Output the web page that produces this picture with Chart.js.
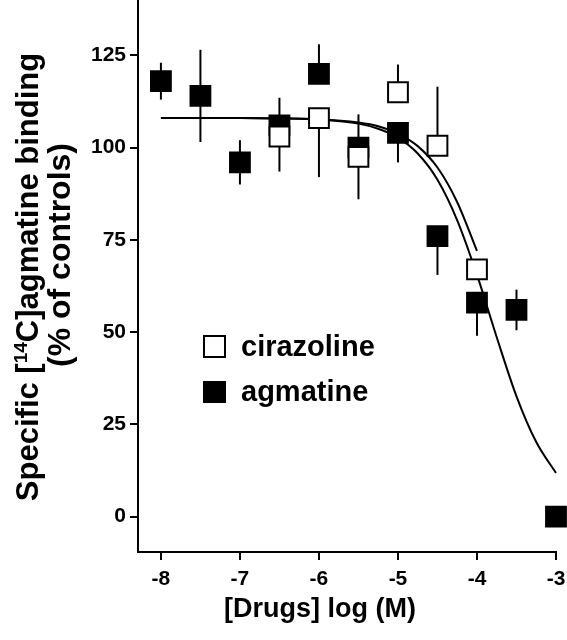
<!DOCTYPE html>
<html>
<head>
<meta charset="utf-8">
<script src="https://cdn.jsdelivr.net/npm/chart.js@4/dist/chart.umd.min.js"></script>
<style>
html,body{margin:0;padding:0;background:#fff;}
canvas{display:block;}
</style>
</head>
<body>
<canvas id="c" width="567" height="640"></canvas>
<script>
// ---- data ----
const xTicks = [-8, -7, -6, -5, -4, -3];
const yTicks = [0, 25, 50, 75, 100, 125];

const agmX = [-8, -7.5, -7, -6.5, -6, -5.5, -5, -4.5, -4, -3.5, -3];
const agmY = [118, 114, 96, 106, 120, 100, 104, 76, 58, 56, 0];
const agmErrUp = [5, 12.5, 6, 7.5, 8, 9, 0, 0, 0, 5.5, 0];
const agmErrDown = [5, 12.5, 6, 0, 0, 0, 8, 10.5, 9, 5.5, 0];

const cirX = [-6.5, -6, -5.5, -5, -4.5, -4];
const cirY = [103, 108, 97.5, 115, 100.5, 67];
const cirErrUp = [0, 0, 0, 7.5, 16, 0];
const cirErrDown = [9.5, 16, 11.5, 0, 0, 0];

const agmFitX = [-8, -7, -6.5, -6, -5.5, -5.25, -5, -4.75, -4.5, -4.25, -4, -3.75, -3.5, -3.25, -3];
const agmFitY = [108, 108, 107.9, 107.6, 106.5, 105.1, 102.7, 98.4, 91.3, 80.3, 65.5, 48.6, 32.6, 20.2, 11.8];
const cirFitX = [-8, -7, -6.5, -6, -5.5, -5.25, -5, -4.75, -4.5, -4.25, -4];
const cirFitY = [108, 108, 107.9, 107.7, 106.8, 105.8, 103.8, 100.4, 94.6, 85.2, 72];

const seriesNames = ['cirazoline', 'agmatine'];
const xTitle = '[Drugs] log (M)';
const yTitleA = 'Specific [';
const yTitleSup = '14';
const yTitleB = 'C]agmatine binding';
const yTitle2 = '(% of controls)';

// ---- build ----
const pts = (xs, ys) => xs.map((x, i) => ({x: x, y: ys[i]}));
const FONT = "'Liberation Sans', Arial, Helvetica, sans-serif";

const errorBars = {
  id: 'errorBars',
  beforeDatasetsDraw(chart) {
    const {ctx, scales: {x, y}} = chart;
    ctx.save();
    ctx.strokeStyle = '#000';
    ctx.lineWidth = 2;
    chart.data.datasets.forEach(ds => {
      if (!ds.errUp) return;
      ds.data.forEach((p, i) => {
        const up = ds.errUp[i], dn = ds.errDown[i];
        if (!up && !dn) return;
        const px = x.getPixelForValue(p.x);
        ctx.beginPath();
        ctx.moveTo(px, y.getPixelForValue(p.y + up));
        ctx.lineTo(px, y.getPixelForValue(p.y - dn));
        ctx.stroke();
      });
    });
    ctx.restore();
  }
};

const texts = {
  id: 'texts',
  afterDraw(chart) {
    const ctx = chart.ctx;
    ctx.save();
    ctx.fillStyle = '#000';
    // x title
    ctx.font = 'bold 27px ' + FONT;
    ctx.textAlign = 'center';
    ctx.textBaseline = 'middle';
    ctx.fillText(xTitle, 320, 610);

    // y title line 1 with superscript
    const big = 'bold 31px ' + FONT, small = 'bold 19px ' + FONT;
    ctx.font = big; const wA = ctx.measureText(yTitleA).width; const wB = ctx.measureText(yTitleB).width;
    ctx.font = small; const wS = ctx.measureText(yTitleSup).width;
    const total = wA + wS + wB;
    ctx.save();
    ctx.translate(38, 277);
    ctx.rotate(-Math.PI / 2);
    ctx.textAlign = 'left';
    ctx.textBaseline = 'alphabetic';
    let sx = -total / 2;
    ctx.font = big; ctx.fillText(yTitleA, sx, 0); sx += wA;
    ctx.font = small; ctx.fillText(yTitleSup, sx, -11); sx += wS;
    ctx.font = big; ctx.fillText(yTitleB, sx, 0);
    ctx.restore();

    ctx.save();
    ctx.translate(70, 255);
    ctx.rotate(-Math.PI / 2);
    ctx.textAlign = 'center';
    ctx.textBaseline = 'alphabetic';
    ctx.font = 'bold 32px ' + FONT;
    ctx.fillText(yTitle2, 0, 0);
    ctx.restore();

    // legend
    ctx.lineWidth = 2;
    ctx.strokeStyle = '#000';
    ctx.fillStyle = '#fff';
    ctx.fillRect(204, 336, 21, 21);
    ctx.strokeRect(204, 336, 21, 21);
    ctx.fillStyle = '#000';
    ctx.fillRect(203, 381, 23, 22);
    ctx.font = 'bold 29px ' + FONT;
    ctx.textAlign = 'left';
    ctx.textBaseline = 'alphabetic';
    ctx.fillText(seriesNames[0], 241, 356);
    ctx.fillText(seriesNames[1], 241, 401);
    ctx.restore();
  }
};

const noPad = s => { s.paddingTop = 0; s.paddingBottom = 0; s.paddingLeft = 0; s.paddingRight = 0; };

new Chart(document.getElementById('c'), {
  type: 'scatter',
  data: {
    datasets: [
      {
        label: seriesNames[0],
        data: pts(cirX, cirY),
        errUp: cirErrUp, errDown: cirErrDown,
        pointStyle: 'rect', pointRadius: 14, pointHoverRadius: 14,
        backgroundColor: '#fff', borderColor: '#000', borderWidth: 2,
        order: 0, clip: false
      },
      {
        label: seriesNames[1],
        data: pts(agmX, agmY),
        errUp: agmErrUp, errDown: agmErrDown,
        pointStyle: 'rect', pointRadius: 14, pointHoverRadius: 14,
        backgroundColor: '#000', borderColor: '#000', borderWidth: 2,
        order: 1, clip: false
      },
      {
        type: 'line', label: 'fit agmatine',
        data: pts(agmFitX, agmFitY),
        borderColor: '#000', borderWidth: 2, pointRadius: 0,
        cubicInterpolationMode: 'monotone', fill: false,
        order: 2, clip: false
      },
      {
        type: 'line', label: 'fit cirazoline',
        data: pts(cirFitX, cirFitY),
        borderColor: '#000', borderWidth: 2, pointRadius: 0,
        cubicInterpolationMode: 'monotone', fill: false,
        order: 2, clip: false
      }
    ]
  },
  options: {
    responsive: false,
    animation: false,
    events: [],
    layout: {autoPadding: false, padding: {left: 0, right: 11, top: 0, bottom: 0}},
    plugins: {legend: {display: false}, tooltip: {enabled: false}},
    scales: {
      x: {
        type: 'linear',
        min: -8.29, max: -3,
        afterBuildTicks: s => { s.ticks = xTicks.map(v => ({value: v})); },
        afterFit: s => { s.height = 88; noPad(s); },
        border: {display: true, color: '#000', width: 2},
        grid: {drawOnChartArea: false, drawTicks: true, tickLength: 8, color: '#000', lineWidth: 2},
        ticks: {color: '#000', padding: 7, font: {family: FONT, size: 21, weight: 'bold'}, maxRotation: 0,
                callback: v => String(v)}
      },
      y: {
        type: 'linear',
        min: -9.6, max: 140,
        afterBuildTicks: s => { s.ticks = yTicks.map(v => ({value: v})); },
        afterFit: s => { s.width = 138; noPad(s); },
        border: {display: true, color: '#000', width: 2},
        grid: {drawOnChartArea: false, drawTicks: true, tickLength: 8, color: '#000', lineWidth: 2},
        ticks: {color: '#000', padding: 4, font: {family: FONT, size: 21, weight: 'bold'},
                callback: v => String(v)}
      }
    }
  },
  plugins: [errorBars, texts]
});
</script>
</body>
</html>
